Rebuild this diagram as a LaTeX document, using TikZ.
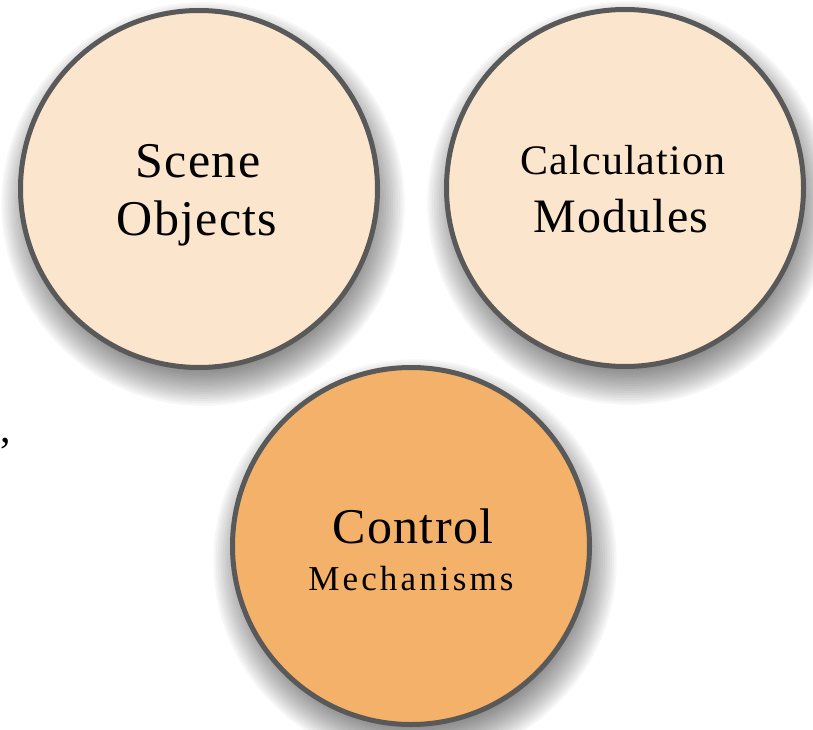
\documentclass[tikz,border=0pt]{standalone}
\usepackage{fontspec}
\setmainfont{Liberation Serif}[LetterSpace=2.5]
\pgfdeclarelayer{background}
\pgfsetlayers{background,main}
\definecolor{peach}{HTML}{FBE5CD}
\definecolor{apricot}{HTML}{F4B169}
\definecolor{rim}{HTML}{595959}
\tikzset{
  disc/.style={circle, draw=rim, line width=5pt, minimum size=357pt,
    inner sep=0pt, outer sep=0pt},
  shadelayer/.style={fill=black, fill opacity=0.034},
  lbl/.style={anchor=base, inner sep=0pt, text=black},
  big/.style={font=\fontsize{50}{60}\selectfont},
  calcsize/.style={font=\fontsize{42}{50}\selectfont},
  modsize/.style={font=\fontsize{48}{56}\selectfont},
  smallwide/.style={font=\fontsize{35}{42}\selectfont\addfontfeature{LetterSpace=9}}
}
\begin{document}
\begin{tikzpicture}[x=1pt, y=-1pt]
  \useasboundingbox (0,0) rectangle (813,730);

  % the three circles
  \node[disc, fill=peach]   (scene)   at (199,189) {};
  \node[disc, fill=peach]   (calc)    at (625,188) {};
  \node[disc, fill=apricot] (control) at (411,546) {};

  % soft drop shadows: stacked translucent discs, offset downwards
  \begin{pgfonlayer}{background}
    \foreach \n in {scene,calc,control}
      \foreach \k in {0,...,19}
        \fill[shadelayer] ([shift={(4,15)}]\n.center) circle ({158+2.3*\k});
  \end{pgfonlayer}

  % labels
  \node[lbl, big] (sceneA) at (198,178) {Scene};
  \node[lbl, big] (sceneB) at (197,235) {Objects};
  \node[lbl, calcsize] (calcA)  at (623,175) {Calculation};
  \node[lbl, modsize]  (calcB)  at (621,232) {Modules};
  \node[lbl, big]   (ctrlA) at (413,543) {Control};
  \node[lbl, smallwide] (ctrlB) at (411,590) {Mechanisms};

  % stray comma at the left edge
  \node[lbl, calcsize] (comma) at (6,442) {,};
\end{tikzpicture}
\end{document}
